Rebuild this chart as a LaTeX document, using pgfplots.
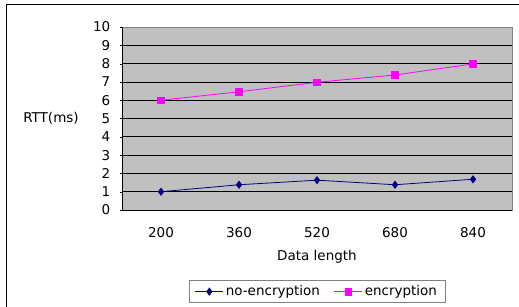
\documentclass[border=0pt]{standalone}
\usepackage{pgfplots}
\pgfplotsset{compat=1.18}
\usepackage{fontspec}
\setmainfont{DejaVu Sans}
\definecolor{plotgray}{HTML}{C0C0C0}
\definecolor{bordergray}{HTML}{808080}
\definecolor{navyc}{HTML}{000080}
\definecolor{magc}{HTML}{FF00FF}
\begin{document}
\fontsize{13.5}{16}\selectfont
\begin{tikzpicture}[x=1pt,y=1pt]
\useasboundingbox (0,0) rectangle (519,306);
\draw[black, line width=1pt] (6,-20) -- (6,301) -- (540,301);
\begin{axis}[
  at={(122pt,96pt)}, anchor=south west,
  scale only axis, width=390pt, height=183pt,
  xmin=-0.5, xmax=4.5, ymin=0, ymax=10,
  xtick={0,1,2,3,4},
  xticklabels={200,360,520,680,840},
  major x tick style={draw=none},
  extra x ticks={0.5,1.5,2.5,3.5},
  extra x tick labels={},
  extra x tick style={major tick length=5pt, tick align=inside, tick style={black, line width=0.8pt}, grid=none},
  ytick={0,1,...,10},
  ymajorgrids,
  grid style={black, line width=0.8pt},
  axis background/.style={fill=plotgray},
  axis line style={bordergray, line width=0.8pt},
  ytick style={black},
  y tick label style={xshift=-5pt},
  x tick label style={yshift=-11pt},
  tick label style={font=\fontsize{13.5}{16}\selectfont},
  ticklabel style={/pgf/number format/assume math mode=true},
  tick align=outside,
  major tick length=2pt,
  xtick pos=bottom, ytick pos=left,
  xlabel={Data length},
  xlabel style={yshift=-1pt},
  legend columns=2,
  legend image code/.code={
    \draw[mark repeat=2,mark phase=2,#1] plot coordinates {(0pt,0pt) (14pt,0pt) (28pt,0pt)};
  },
  legend style={at={(axis description cs:0.5,-0.383)}, anchor=north, draw=bordergray, line width=0.8pt, font=\fontsize{13.5}{16}\selectfont, inner xsep=6pt, inner ysep=3pt, /tikz/every even column/.append style={column sep=12pt}},
  legend cell align=left,
  clip=false,
]
\addplot[navyc, line width=0.8pt, mark=diamond*, mark size=3.5pt, mark options={fill=navyc}] coordinates {(0,1.0) (1,1.38) (2,1.63) (3,1.38) (4,1.68)};
\addlegendentry{no-encryption}
\addplot[magc, line width=0.8pt, mark=square*, mark size=3.3pt, mark options={fill=magc}] coordinates {(0,6.0) (1,6.46) (2,6.98) (3,7.38) (4,7.98)};
\addlegendentry{encryption}
\draw[black, line width=0.8pt] (rel axis cs:0,1) -- (rel axis cs:0,0) -- (rel axis cs:1,0);
\node[anchor=center] at (axis description cs:-0.182,0.503) {RTT(ms)};
\end{axis}
\end{tikzpicture}
\end{document}
